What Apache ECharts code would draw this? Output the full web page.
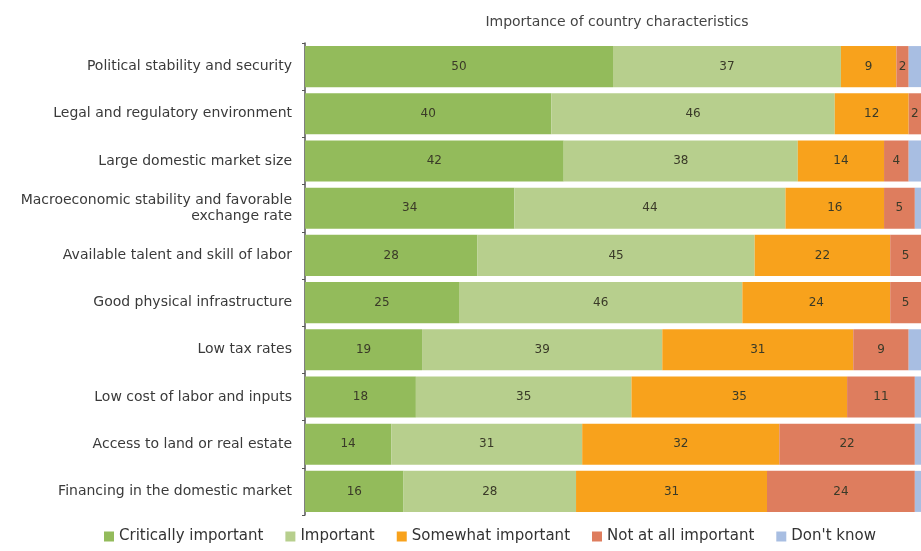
<!DOCTYPE html>
<html>
<head>
<meta charset="utf-8">
<script src="https://cdn.jsdelivr.net/npm/echarts@6/dist/echarts.min.js"></script>
<style>
  html, body { margin: 0; padding: 0; background: #fff; }
  #main { width: 921px; height: 551px; }
</style>
</head>
<body>
<div id="main"></div>
<script>
var categories = [
    'Political stability and security',
    'Legal and regulatory environment',
    'Large domestic market size',
    'Macroeconomic stability and favorable\nexchange rate',
    'Available talent and skill of labor',
    'Good physical infrastructure',
    'Low tax rates',
    'Low cost of labor and inputs',
    'Access to land or real estate',
    'Financing in the domestic market'
]
var critically = [50, 40, 42, 34, 28, 25, 19, 18, 14, 16]
var important = [37, 46, 38, 44, 45, 46, 39, 35, 31, 28]
var somewhat = [9, 12, 14, 16, 22, 24, 31, 35, 32, 31]
var notAtAll = [2, 2, 4, 5, 5, 5, 9, 11, 22, 24]
var dontKnow = [2, 0, 2, 1, 0, 0, 2, 1, 1, 1]

var seriesNames = ['Critically important', 'Important', 'Somewhat important', 'Not at all important', "Don't know"]
var seriesColors = ['#93bb5b', '#b7cf8d', '#f8a21c', '#de7d5e', '#a8bee2']
var seriesData = [critically, important, somewhat, notAtAll, dontKnow]

var chart = echarts.init(document.getElementById('main'))

var series = seriesNames.map(function (name, i) {
    return {
        name: name,
        type: 'bar',
        stack: 'total',
        barCategoryGap: '13%',
        itemStyle: { color: seriesColors[i] },
        label: {
            show: i < 4,
            position: 'inside',
            color: '#3a3a28',
            fontSize: 12,
            fontFamily: 'DejaVu Sans',
            formatter: function (p) { return p.value > 0 ? p.value : '' }
        },
        emphasis: { disabled: true },
        data: seriesData[i]
    }
})

var option = {
    backgroundColor: '#ffffff',
    animation: false,
    title: {
        text: 'Importance of country characteristics',
        left: 612,
        top: 10,
        textAlign: 'center',
        textStyle: { fontSize: 14, fontWeight: 'normal', color: '#444', fontFamily: 'DejaVu Sans' }
    },
    legend: {
        bottom: 2,
        left: 99,
        itemWidth: 10,
        itemHeight: 10,
        itemGap: 22,
        icon: 'rect',
        textStyle: { fontSize: 15, color: '#333', fontFamily: 'DejaVu Sans' },
        data: seriesNames
    },
    grid: { left: 305, top: 43, height: 472, width: 616 },
    xAxis: {
        type: 'value',
        min: 0,
        max: 100,
        show: false
    },
    yAxis: {
        type: 'category',
        inverse: true,
        data: categories,
        axisLine: { show: true, lineStyle: { color: '#555', width: 1.5 } },
        axisTick: { show: true, length: 3, lineStyle: { color: '#555' } },
        axisLabel: {
            color: '#3a3a3a',
            fontSize: 14,
            fontFamily: 'DejaVu Sans',
            margin: 13,
            lineHeight: 16
        }
    },
    series: series
}

chart.setOption(option)
</script>
</body>
</html>
